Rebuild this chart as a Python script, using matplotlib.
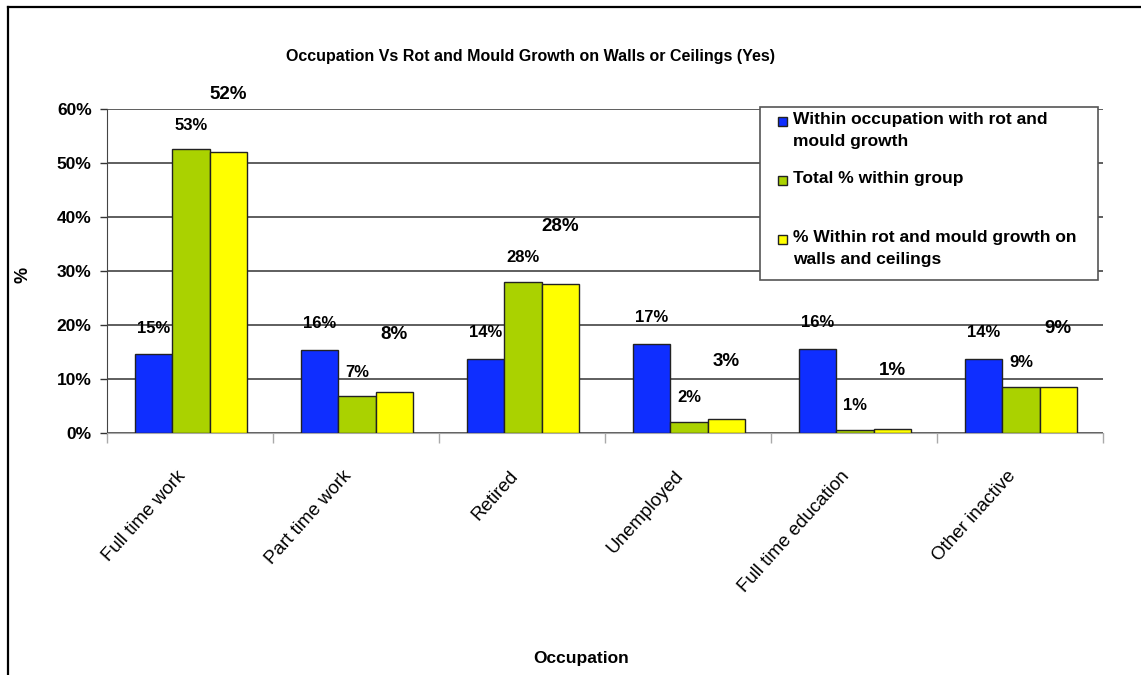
import numpy as np
import matplotlib
matplotlib.use("Agg")
import matplotlib.pyplot as plt
from matplotlib.lines import Line2D
from matplotlib.patches import Rectangle
from matplotlib.transforms import ScaledTranslation

plt.rcParams['font.family'] = ['Liberation Sans', 'DejaVu Sans']

occupations = ["Full time work", "Part time work", "Retired", "Unemployed",
               "Full time education", "Other inactive"]
within_occupation = [14.6, 15.5, 13.8, 16.6, 15.7, 13.8]
total_within_group = [52.6, 6.9, 28.1, 2.1, 0.7, 8.6]
within_rot_mould = [52.0, 7.6, 27.6, 2.6, 0.8, 8.6]

series_names = ["Within occupation with rot and\nmould growth",
                "Total % within group",
                "% Within rot and mould growth on\nwalls and ceilings"]
colors = ["#0F2EFF", "#AAD200", "#FFFF00"]

W, H, DPI = 1141, 675, 100
fig = plt.figure(figsize=(W / DPI, H / DPI), dpi=DPI)
ax = fig.add_axes([107 / W, 1 - 433.3 / H, 996 / W, 324 / H])

x = np.arange(len(occupations))
bw = 0.223
all_series = [within_occupation, total_within_group, within_rot_mould]
label_offsets = [26, 24, 58]
label_sizes = [12, 12, 13.5]
for i, (vals, col) in enumerate(zip(all_series, colors)):
    pos = x + (i - 1) * bw + 0.006
    ax.bar(pos, vals, width=bw, color=col, edgecolor="#222222", linewidth=1, zorder=3)
    for px, v in zip(pos, vals):
        ax.annotate(f"{v:.0f}%", (px, v), xytext=(0, label_offsets[i]),
                    textcoords="offset pixels", ha="center", va="center",
                    fontsize=label_sizes[i], fontweight="bold", zorder=5)

ax.set_xlim(-0.5, len(occupations) - 0.5)
ax.set_ylim(0, 60)
ax.set_yticks(np.arange(0, 61, 10))
ax.set_yticklabels([f"{t}%" for t in range(0, 61, 10)], fontsize=12.5, fontweight="bold")
ax.yaxis.grid(True, color="#333333", linewidth=1.1, zorder=0)
ax.tick_params(axis="y", length=5, width=1, color="#333333", pad=6)

# category labels, rotated and tucked under the boundaries
ax.set_xticks(x)
ax.set_xticklabels(occupations, rotation=48, ha="right", va="center",
                   rotation_mode="anchor", fontsize=13.5)
ax.tick_params(axis="x", length=0, pad=29)
shift = ScaledTranslation(-7 / DPI, 0, fig.dpi_scale_trans)
for lab in ax.get_xticklabels():
    lab.set_transform(lab.get_transform() + shift)
ax.set_xticks(np.arange(-0.5, len(occupations)), minor=True)
ax.tick_params(axis="x", which="minor", length=7, width=1, color="#aaaaaa")

for s in ["top", "right"]:
    ax.spines[s].set_visible(False)
ax.spines["left"].set_color("#444444")
ax.spines["bottom"].set_color("#a8a8a8")

fig.text(530 / W, 1 - 57 / H,
         "Occupation Vs Rot and Mould Growth on Walls or Ceilings (Yes)",
         ha="center", va="center", fontsize=11.5, fontweight="bold")
fig.text(581 / W, 1 - 659 / H, "Occupation", ha="center", va="center",
         fontsize=12.5, fontweight="bold")
fig.text(23 / W, 1 - 275 / H, "%", ha="center", va="center", rotation=90,
         fontsize=13, fontweight="bold")

# legend box drawn by hand so each marker sits on the first line of its entry
fig.add_artist(Rectangle((760 / W, 1 - 280 / H), 338 / W, 173 / H,
                         transform=fig.transFigure, facecolor="white",
                         edgecolor="#555555", linewidth=1.2, zorder=6))
for k, (name, col) in enumerate(zip(series_names, colors)):
    y0 = 121 + 59 * k
    fig.add_artist(Rectangle((778 / W, 1 - (y0 + 4.5) / H), 9 / W, 9 / H,
                             transform=fig.transFigure, facecolor=col,
                             edgecolor="#222222", linewidth=1, zorder=7))
    fig.text(793 / W, 1 - (y0 - 9) / H, name, ha="left", va="top",
             fontsize=12.5, fontweight="bold", linespacing=1.55, zorder=7)

# outer frame of the chart
fig.add_artist(Line2D([8 / W, 8 / W], [0, 1 - 7 / H], color="black", linewidth=1.6))
fig.add_artist(Line2D([8 / W, 1], [1 - 7 / H, 1 - 7 / H], color="black", linewidth=1.6))

fig.savefig("out.png", dpi=DPI)
